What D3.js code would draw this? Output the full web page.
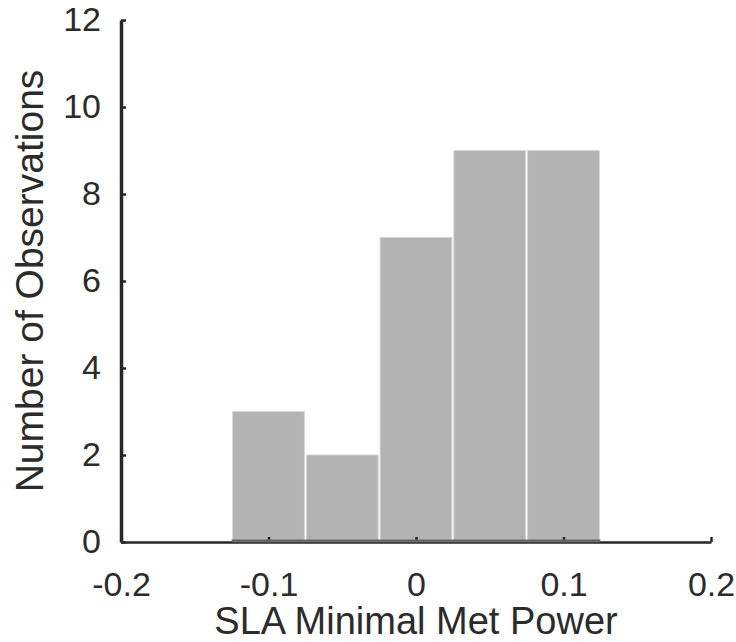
<!DOCTYPE html>
<html>
<head>
<meta charset="utf-8">
<script src="https://cdn.jsdelivr.net/npm/d3@7"></script>
<style>
  body { margin: 0; background: #fff; }
  svg text { font-family: "Liberation Sans", Arial, Helvetica, sans-serif; fill: #2b2b2b; }
</style>
</head>
<body>
<svg id="chart" width="736" height="642"></svg>
<script>
// histogram bins (edges) and counts
const binEdges = [-0.125, -0.075, -0.025, 0.025, 0.075, 0.125];
const counts = [3, 2, 7, 9, 9];
const xTicks = [-0.2, -0.1, 0, 0.1, 0.2];
const xTickLabels = ["-0.2", "-0.1", "0", "0.1", "0.2"];
const yTicks = [0, 2, 4, 6, 8, 10, 12];

const bins = counts.map((c, i) => ({x0: binEdges[i], x1: binEdges[i + 1], n: c}));

const svg = d3.select("#chart");
const x = d3.scaleLinear().domain([-0.2, 0.2]).range([121, 711]);
const y = d3.scaleLinear().domain([0, 12]).range([542, 20]);

// bars
svg.append("g")
  .selectAll("rect")
  .data(bins)
  .enter().append("rect")
  .attr("x", d => x(d.x0) + 1)
  .attr("y", d => y(d.n))
  .attr("width", d => x(d.x1) - x(d.x0) - 2)
  .attr("height", d => y(0) - y(d.n))
  .attr("fill", "#b3b3b3")
  .attr("stroke", "#d6d6d6")
  .attr("stroke-width", 1);

// x axis
const xAxis = d3.axisBottom(x)
  .tickValues(xTicks)
  .tickSizeInner(-5)
  .tickSizeOuter(0)
  .tickPadding(30)
  .tickFormat((d, i) => xTickLabels[i]);

const gx = svg.append("g")
  .attr("transform", "translate(0," + y(0) + ")")
  .call(xAxis);
gx.select(".domain").attr("stroke", "#262626").attr("stroke-width", 2.5);
gx.selectAll(".tick line").attr("stroke", "#262626").attr("stroke-width", 2.5);
gx.selectAll(".tick text").style("font-size", "34px").style("fill", "#2b2b2b");

// darker base line under bars
svg.append("g")
  .selectAll("line")
  .data(bins)
  .enter().append("line")
  .attr("x1", d => x(d.x0))
  .attr("x2", d => x(d.x1))
  .attr("y1", y(0) - 1)
  .attr("y2", y(0) - 1)
  .attr("stroke", "#666")
  .attr("stroke-width", 3);

// y axis
const yAxis = d3.axisLeft(y)
  .tickValues(yTicks)
  .tickSizeInner(-5)
  .tickSizeOuter(0)
  .tickPadding(20);

const gy = svg.append("g")
  .attr("transform", "translate(" + x(-0.2) + ",0)")
  .call(yAxis);
gy.select(".domain").attr("stroke", "#262626").attr("stroke-width", 3.5);
gy.selectAll(".tick line").attr("stroke", "#262626").attr("stroke-width", 2.5);
gy.selectAll(".tick text").style("font-size", "34px").style("fill", "#2b2b2b");

// axis titles
svg.append("text")
  .attr("x", (x(-0.2) + x(0.2)) / 2)
  .attr("y", 634)
  .attr("text-anchor", "middle")
  .style("font-size", "38px")
  .text("SLA Minimal Met Power");

svg.append("text")
  .attr("transform", "translate(43," + (y(0) + y(12)) / 2 + ")rotate(-90)")
  .attr("text-anchor", "middle")
  .style("font-size", "39px")
  .text("Number of Observations");
</script>
</body>
</html>
